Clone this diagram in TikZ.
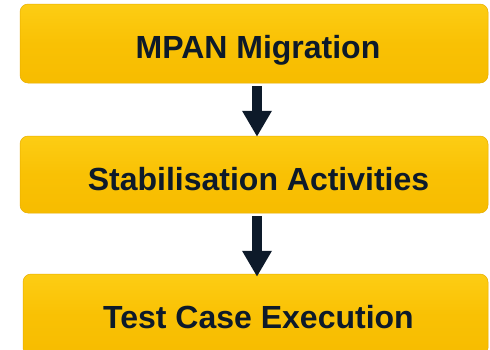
\documentclass[tikz,border=0pt]{standalone}
\usepackage{fontspec}
\setmainfont{Liberation Sans}
\usetikzlibrary{arrows.meta,calc}
\definecolor{gold}{HTML}{F9C104}
\definecolor{goldtop}{HTML}{FDCD14}
\definecolor{goldbot}{HTML}{F7BC00}
\definecolor{goldedge}{HTML}{E8AE00}
\definecolor{navy}{HTML}{0D1A2A}
\tikzset{
  stagebox/.style={rounded corners=8pt, inner sep=0pt, top color=goldtop, bottom color=goldbot, middle color=gold, draw=goldedge, line width=0.5pt},
  stagetext/.style={font=\bfseries\fontsize{32}{37}\selectfont, text=navy, inner sep=0pt, anchor=base},
  flowarrow/.style={navy, line width=10pt, -{Triangle[width=28pt,length=26pt]}}
}
\begin{document}
\begin{tikzpicture}[x=1pt,y=-1pt]
\useasboundingbox (0,0) rectangle (490,349);
\fill[white] (0,0) rectangle (490,349);
\node[stagebox, minimum width=468pt, minimum height=79pt] (b1) at (254,43.5) {};
\node[stagebox, minimum width=468pt, minimum height=77pt] (b2) at (254,174.5) {};
\node[stagebox, minimum width=465pt, minimum height=82pt] (b3) at (255.5,315) {};
\node[stagetext] (t1) at (258,58.5) {MPAN Migration};
\node[stagetext] (t2) at (258.5,190) {Stabilisation Activities};
\node[stagetext] (t3) at (258.5,328) {Test Case Execution};
\draw[flowarrow] ([xshift=3pt,yshift=-3pt]b1.south) -- ([xshift=3pt,yshift=-1pt]b2.north);
\draw[flowarrow] ([xshift=3pt,yshift=-3pt]b2.south) -- ([xshift=1.5pt,yshift=-3pt]b3.north);
\end{tikzpicture}
\end{document}
